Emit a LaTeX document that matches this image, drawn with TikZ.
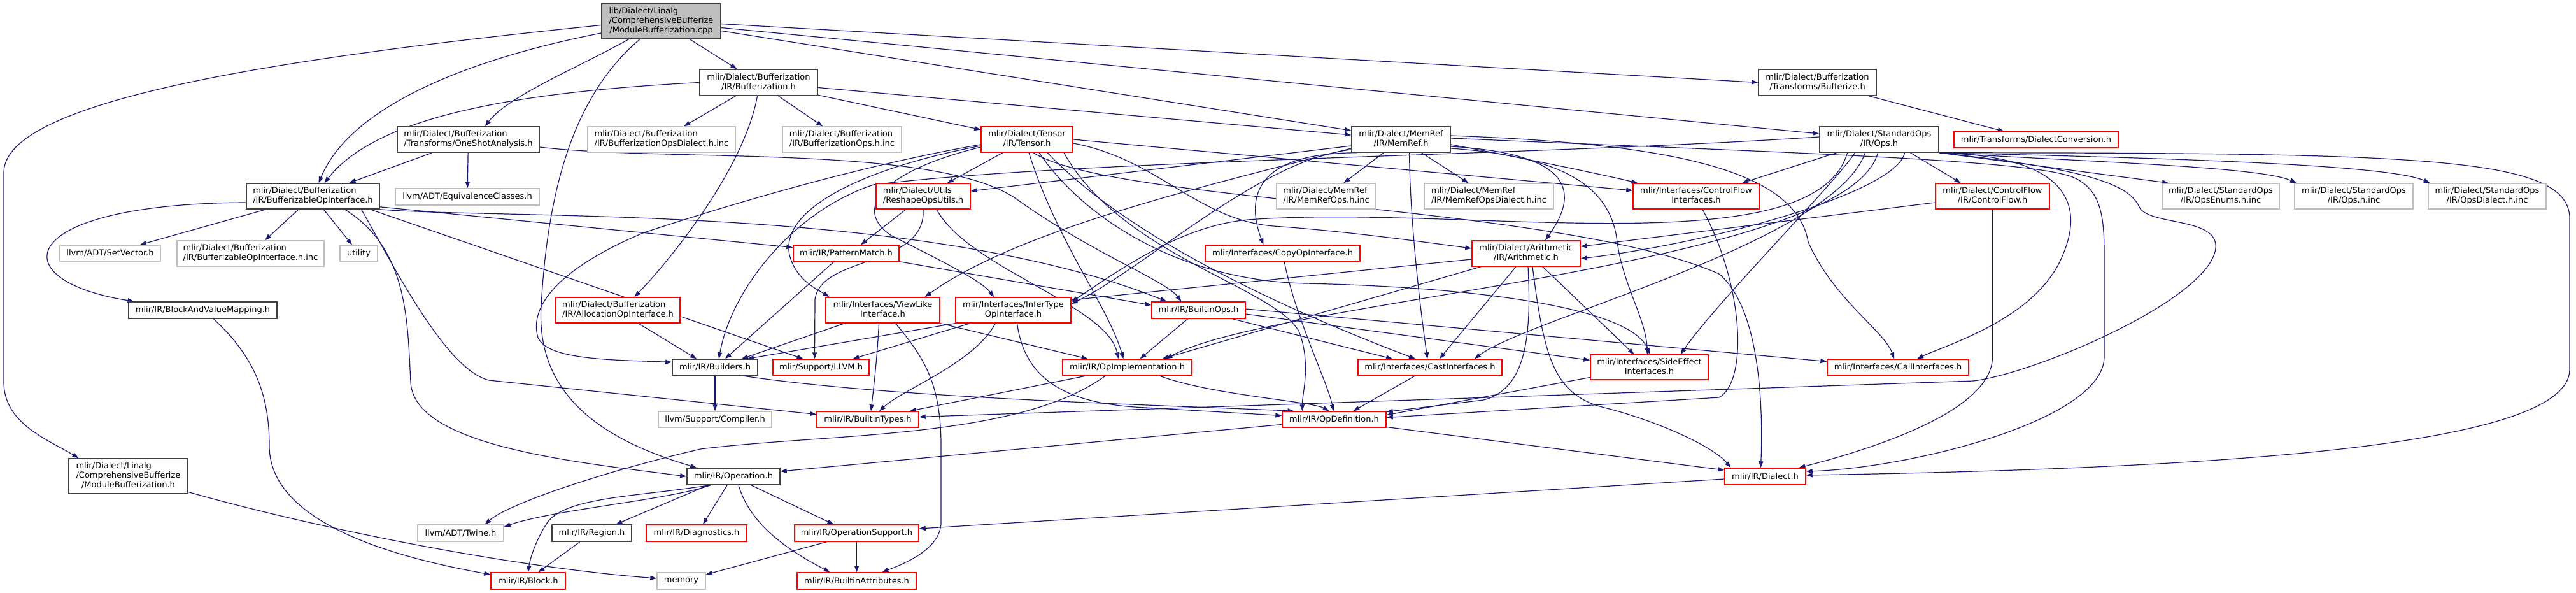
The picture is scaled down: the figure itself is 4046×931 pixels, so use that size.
\documentclass[tikz,border=0pt]{standalone}
\usepackage{fontspec}
\setmainfont{DejaVu Sans}
\usetikzlibrary{arrows.meta}
\definecolor{edgec}{HTML}{191970}
\definecolor{gry}{HTML}{BFBFBF}
\definecolor{dkb}{HTML}{404040}
\pgfdeclarelayer{bg}
\pgfsetlayers{bg,main}
\newcommand{\nlab}[2]{\begin{tabular}{@{}l@{}}#1\\\multicolumn{1}{@{}c@{}}{#2}\end{tabular}}
\begin{document}
\begin{tikzpicture}[x=1pt,y=-1pt,
 nd/.style={inner sep=0pt, fill=white, font=\fontsize{13}{15}\selectfont},
 blk/.style={nd, draw=dkb, line width=1.6pt},
 gy/.style={nd, draw=gry, line width=1.4pt},
 rd/.style={nd, draw=red, line width=1.4pt},
 mn/.style={nd, draw=dkb, fill=gry, line width=1.6pt},
 sz/.style 2 args={minimum width=#1, minimum height=#2},
 e/.style={draw=edgec, line width=1.2pt, -{Triangle[length=10pt,width=7pt]}}
]
\useasboundingbox (0,0) rectangle (4046,931);
% nodes
\node[mn,sz={187}{55}] (main) at (1038.5,33.5) {\nlab{lib/Dialect/Linalg\\/ComprehensiveBufferize}{/ModuleBufferization.cpp}};
\node[blk,sz={185}{41}] (buf) at (1191.5,129.5) {\nlab{mlir/Dialect/Bufferization}{/IR/Bufferization.h}};
\node[blk,sz={185}{41}] (bze) at (2854.5,129.5) {\nlab{mlir/Dialect/Bufferization}{/Transforms/Bufferize.h}};
\node[blk,sz={223}{40}] (osa) at (735.5,219) {\nlab{mlir/Dialect/Bufferization}{/Transforms/OneShotAnalysis.h}};
\node[gy,sz={232}{40}] (bodi) at (1039,219) {\nlab{mlir/Dialect/Bufferization}{/IR/BufferizationOpsDialect.h.inc}};
\node[gy,sz={187}{40}] (boi) at (1322.5,219) {\nlab{mlir/Dialect/Bufferization}{/IR/BufferizationOps.h.inc}};
\node[rd,sz={144}{40}] (tensor) at (1613,219) {\nlab{mlir/Dialect/Tensor}{/IR/Tensor.h}};
\node[blk,sz={155}{40}] (memref) at (2200.5,219) {\nlab{mlir/Dialect/MemRef}{/IR/MemRef.h}};
\node[blk,sz={187}{40}] (stdops) at (2951.5,219) {\nlab{mlir/Dialect/StandardOps}{/IR/Ops.h}};
\node[rd,sz={258}{25}] (dconv) at (3198,219.5) {mlir/Transforms/DialectConversion.h};
\node[blk,sz={209}{40}] (boif) at (491.5,308) {\nlab{mlir/Dialect/Bufferization}{/IR/BufferizableOpInterface.h}};
\node[gy,sz={226}{26}] (eqc) at (734,309) {llvm/ADT/EquivalenceClasses.h};
\node[rd,sz={148}{40}] (reshape) at (1450,308) {\nlab{mlir/Dialect/Utils}{/ReshapeOpsUtils.h}};
\node[gy,sz={156}{40}] (mrops) at (2083,308) {\nlab{mlir/Dialect/MemRef}{/IR/MemRefOps.h.inc}};
\node[gy,sz={203}{40}] (mrdial) at (2338.5,308) {\nlab{mlir/Dialect/MemRef}{/IR/MemRefOpsDialect.h.inc}};
\node[rd,sz={198}{40}] (cfi) at (2664,308) {\nlab{mlir/Interfaces/ControlFlow}{Interfaces.h}};
\node[rd,sz={179}{40}] (cf) at (3129.5,308) {\nlab{mlir/Dialect/ControlFlow}{/IR/ControlFlow.h}};
\node[gy,sz={184}{40}] (openum) at (3488,308) {\nlab{mlir/Dialect/StandardOps}{/IR/OpsEnums.h.inc}};
\node[gy,sz={186}{40}] (opsinc) at (3697,308) {\nlab{mlir/Dialect/StandardOps}{/IR/Ops.h.inc}};
\node[gy,sz={185}{40}] (opsdial) at (3906.5,308) {\nlab{mlir/Dialect/StandardOps}{/IR/OpsDialect.h.inc}};
\node[gy,sz={158}{25}] (setv) at (173,397.5) {llvm/ADT/SetVector.h};
\node[gy,sz={231}{40}] (boifinc) at (393.5,398) {\nlab{mlir/Dialect/Bufferization}{/IR/BufferizableOpInterface.h.inc}};
\node[gy,sz={59}{25}] (util) at (563.5,397.5) {utility};
\node[rd,sz={166}{25}] (pm) at (1329,397.5) {mlir/IR/PatternMatch.h};
\node[rd,sz={243}{25}] (copy) at (2014.5,397.5) {mlir/Interfaces/CopyOpInterface.h};
\node[rd,sz={170}{40}] (arith) at (2397,398) {\nlab{mlir/Dialect/Arithmetic}{/IR/Arithmetic.h}};
\node[blk,sz={233}{26}] (bvm) at (318.5,487) {mlir/IR/BlockAndValueMapping.h};
\node[rd,sz={195}{40}] (alloc) at (970.5,487) {\nlab{mlir/Dialect/Bufferization}{/IR/AllocationOpInterface.h}};
\node[rd,sz={179}{40}] (view) at (1386.5,487) {\nlab{mlir/Interfaces/ViewLike}{Interface.h}};
\node[rd,sz={181}{40}] (infer) at (1591.5,487) {\nlab{mlir/Interfaces/InferType}{OpInterface.h}};
\node[rd,sz={147}{26}] (bops) at (1882.5,487) {mlir/IR/BuiltinOps.h};
\node[blk,sz={134}{25}] (builders) at (1123,576.5) {mlir/IR/Builders.h};
\node[rd,sz={151}{25}] (llvmh) at (1289.5,576.5) {mlir/Support/LLVM.h};
\node[rd,sz={203}{25}] (opimpl) at (1770.5,576.5) {mlir/IR/OpImplementation.h};
\node[rd,sz={226}{25}] (cast) at (2246,576.5) {mlir/Interfaces/CastInterfaces.h};
\node[rd,sz={185}{39}] (side) at (2590.5,576.5) {\nlab{mlir/Interfaces/SideEffect}{Interfaces.h}};
\node[rd,sz={222}{25}] (call) at (2981,576.5) {mlir/Interfaces/CallInterfaces.h};
\node[gy,sz={178}{25}] (comp) at (1123,658.5) {llvm/Support/Compiler.h};
\node[rd,sz={160}{25}] (btypes) at (1363,658.5) {mlir/IR/BuiltinTypes.h};
\node[rd,sz={163}{25}] (opdef) at (2095.5,658.5) {mlir/IR/OpDefinition.h};
\node[blk,sz={187}{55}] (modh) at (201.5,747.5) {\nlab{mlir/Dialect/Linalg\\/ComprehensiveBufferize}{/ModuleBufferization.h}};
\node[blk,sz={146}{26}] (oper) at (1152,748) {mlir/IR/Operation.h};
\node[rd,sz={127}{26}] (dialect) at (2772.5,748) {mlir/IR/Dialect.h};
\node[gy,sz={135}{26}] (twine) at (723.5,837) {llvm/ADT/Twine.h};
\node[blk,sz={125}{26}] (region) at (929.5,837) {mlir/IR/Region.h};
\node[rd,sz={158}{26}] (diag) at (1094,837) {mlir/IR/Diagnostics.h};
\node[rd,sz={195}{26}] (opsup) at (1345.5,837) {mlir/IR/OperationSupport.h};
\node[rd,sz={117}{26}] (block) at (829.5,912) {mlir/IR/Block.h};
\node[gy,sz={76}{26}] (memory) at (1070,912) {memory};
\node[rd,sz={187}{26}] (battr) at (1345.5,912) {mlir/IR/BuiltinAttributes.h};
\begin{pgfonlayer}{bg}
% edges from main
\draw[e] ([yshift=-6]main.west) .. controls (500,85) and (8,150) .. (6,270) -- (6,600) .. controls (6,665) and (75,690) .. ([xshift=-78]modh.north);
\draw[e] (main) .. controls (700,100) and (545,180) .. ([xshift=9]boif.north);
\draw[e] (main) .. controls (900,110) and (800,150) .. ([xshift=26]osa.north);
\draw[e] (main) .. controls (900,150) and (860,300) .. (850,480) .. controls (840,640) and (980,700) .. ([xshift=-58]oper.north);
\draw[e] (main) -- ([xshift=-34]buf.north);
\draw[e] ([yshift=-4]main.east) -- (bze.west);
\draw[e] ([yshift=-10]main.east) -- ([yshift=9]stdops.west);
\draw[e] ([yshift=-15]main.east) -- ([yshift=14]memref.west);
% buf
\draw[e] (buf.west) .. controls (800,145) and (590,185) .. ([xshift=18]boif.north);
\draw[e] (buf) -- (bodi);
\draw[e] (buf) -- (boi);
\draw[e] (buf) -- (tensor);
\draw[e] ([yshift=-8]buf.east) -- ([yshift=7]memref.west);
\draw[e] ([xshift=-2]buf.south) .. controls (1170,260) and (1060,400) .. ([xshift=26]alloc.north);
\draw[e] (bze) -- (dconv);
% osa
\draw[e] (osa) -- (boif);
\draw[e] (osa) -- (eqc);
\draw[e] ([yshift=-12]osa.east) .. controls (1050,255) and (1480,225) .. (1600,315) .. controls (1720,400) and (1830,440) .. ([xshift=-27]bops.north);
% boif
\draw[e] (boif) -- (setv);
\draw[e] (boif) -- (boifinc);
\draw[e] (boif) -- (util);
\draw[e] ([yshift=-10]boif.west) .. controls (20,320) and (0,440) .. ([xshift=-108]bvm.north);
\draw[e] ([xshift=50]boif.south) .. controls (640,390) and (640,500) .. (645,600) .. controls (650,700) and (900,725) .. (oper.west);
\draw[e] ([xshift=76]boif.south) .. controls (620,420) and (700,580) .. (768,597) -- ([yshift=8]btypes.west);
\draw[e] ([xshift=90]boif.south) -- ([xshift=-28]llvmh.north);
\draw[e] (boif.south east) .. controls (800,345) and (1450,320) .. ([xshift=-50]bops.north);
\draw[e] ([yshift=4]boif.south east) -- ([yshift=9]pm.west);
% tensor
\draw[e] (tensor) -- (reshape);
\draw[e] ([yshift=-8]tensor.west) .. controls (1350,260) and (1150,320) .. (1012,365) .. controls (880,420) and (830,480) .. (845,530) .. controls (860,565) and (960,565) .. ([yshift=8]builders.west);
\draw[e] ([yshift=-10]tensor.west) .. controls (1350,265) and (1225,330) .. (1240,400) .. controls (1250,440) and (1285,455) .. ([xshift=-84]view.north);
\draw[e] ([yshift=-12]tensor.west) .. controls (1380,270) and (1340,330) .. (1400,370) .. controls (1480,410) and (1540,440) .. ([xshift=-30]infer.north);
\draw[e] ([xshift=3]tensor.south) .. controls (1660,380) and (1740,480) .. ([xshift=-6]opimpl.north);
\draw[e] ([xshift=10]tensor.south) .. controls (1750,320) and (2450,320) .. (2700,430) .. controls (2760,480) and (2770,620) .. ([xshift=-7]dialect.north);
\draw[e] ([xshift=19]tensor.south) .. controls (1700,340) and (1850,440) .. (2050,445) .. controls (2300,450) and (2560,480) .. ([xshift=1]side.north);
\draw[e] ([xshift=32]tensor.south) .. controls (1750,350) and (1950,460) .. ([xshift=-23]cast.north);
\draw[e] ([xshift=58]tensor.south) .. controls (1760,400) and (2000,450) .. (2040,520) .. controls (2060,570) and (2045,620) .. ([xshift=-50]opdef.north);
\draw[e] (tensor.east) -- ([yshift=9]cfi.west);
\draw[e] ([yshift=-6]tensor.east) .. controls (1820,250) and (1880,345) .. (2000,355) .. controls (2100,362) and (2200,375) .. ([yshift=8]arith.west);
% memref
\draw[e] ([yshift=-10]memref.west) -- ([yshift=8]reshape.east);
\draw[e] ([yshift=-14]memref.west) .. controls (1900,290) and (1600,360) .. ([xshift=66]view.north);
\draw[e] ([yshift=-16]memref.west) .. controls (1980,250) and (1800,420) .. ([yshift=10]infer.east);
\draw[e] ([xshift=-69]memref.south) .. controls (1960,240) and (1960,320) .. ([xshift=-30]copy.north);
\draw[e] (memref) -- (mrops);
\draw[e] ([xshift=13]memref.south) .. controls (2215,350) and (2230,480) .. ([xshift=-4]cast.north);
\draw[e] (memref) -- (mrdial);
\draw[e] ([yshift=-8]memref.east) .. controls (2350,240) and (2500,270) .. ([xshift=-92]cfi.north);
\draw[e] ([yshift=-11]memref.east) .. controls (2450,240) and (2490,290) .. ([xshift=30]arith.north);
\draw[e] ([yshift=-14]memref.east) .. controls (2450,245) and (2530,290) .. (2540,380) .. controls (2550,450) and (2585,500) .. ([xshift=-3]side.north);
\draw[e] ([yshift=6]memref.east) .. controls (2600,225) and (2820,260) .. (2840,380) .. controls (2880,470) and (2960,520) .. ([xshift=-6]call.north);
\draw[e] ([yshift=2]memref.east) .. controls (2800,240) and (3200,250) .. (3260,280) .. controls (3300,300) and (3305,340) .. (3305,400) -- (3305,560) .. controls (3305,660) and (3000,735) .. ([yshift=8]dialect.east);
% stdops
\draw[e] (stdops.south east) -- ([xshift=-82]openum.north);
\draw[e] (stdops.south east) .. controls (3300,255) and (3550,262) .. ([xshift=-90]opsinc.north);
\draw[e] (stdops.south east) .. controls (3400,248) and (3750,258) .. ([xshift=-90]opsdial.north);
\draw[e] ([xshift=49]stdops.south) -- ([xshift=-50]cf.north);
\draw[e] (stdops.south east) .. controls (3800,240) and (4030,245) .. (4036,340) -- (4036,580) .. controls (4036,700) and (3500,735) .. ([yshift=2]dialect.east);
\draw[e] (stdops.south east) .. controls (3260,245) and (3270,330) .. (3240,400) .. controls (3200,500) and (3060,540) .. ([xshift=30]call.north);
\draw[e] (stdops.south east) .. controls (3280,265) and (3345,290) .. (3360,325) .. controls (3375,355) and (3485,340) .. (3480,390) .. controls (3470,470) and (3200,585) .. (3100,598) -- ([yshift=4]btypes.east);
\draw[e] ([xshift=-67]stdops.south) -- ([xshift=72]cfi.north);
\draw[e] ([xshift=-38]stdops.south) .. controls (2880,290) and (2700,470) .. ([xshift=49]side.north);
\draw[e] ([xshift=-22]stdops.south) .. controls (2880,380) and (2400,500) .. ([xshift=70]cast.north);
\draw[e] ([xshift=-2]stdops.south) .. controls (2900,420) and (2000,470) .. ([xshift=61]opimpl.north);
\draw[e] ([xshift=40]stdops.south) .. controls (2980,300) and (2700,380) .. ([yshift=-8]arith.east);
\draw[e] ([xshift=-50]stdops.south) .. controls (2850,420) and (2300,320) .. (1960,345) .. controls (1850,355) and (1750,430) .. ([yshift=13]infer.east);
\draw[e] ([yshift=4]stdops.west) .. controls (2400,245) and (1700,250) .. (1372,290) .. controls (1250,330) and (1150,450) .. ([xshift=6]builders.north);
% cf
\draw[e] ([yshift=-10]cf.west) -- ([yshift=11]arith.east);
\draw[e] (cf.south) -- (3129.5,560) .. controls (3129.5,650) and (2920,710) .. ([xshift=53]dialect.north);
% arith
\draw[e] ([yshift=-9]arith.west) -- ([yshift=16]infer.east);
\draw[e] ([xshift=-71]arith.south) -- ([xshift=55]opimpl.north);
\draw[e] ([xshift=-16]arith.south) -- ([xshift=15]cast.north);
\draw[e] ([xshift=3]arith.south) .. controls (2405,520) and (2400,610) .. (2330,628) -- ([yshift=12]opdef.east);
\draw[e] ([xshift=10]arith.south) .. controls (2425,560) and (2440,620) .. (2520,640) .. controls (2600,660) and (2690,700) .. ([xshift=-54]dialect.north);
\draw[e] ([xshift=26]arith.south) -- ([xshift=-24]side.north);
% interfaces
\draw[e] ([xshift=10]cfi.south) .. controls (2740,450) and (2745,600) .. (2700,624) -- ([yshift=3]opdef.east);
\draw[e] (copy) .. controls (2035,500) and (2085,600) .. ([xshift=-1]opdef.north);
\draw[e] (cast) -- ([xshift=30]opdef.north);
\draw[e] ([yshift=-16]side.west) -- ([yshift=7]opdef.east);
% view
\draw[e] ([xshift=-60]view.south) -- ([xshift=42]builders.north);
\draw[e] ([xshift=-6]view.south) .. controls (1378,560) and (1372,610) .. ([xshift=5]btypes.north);
\draw[e] ([xshift=20]view.south) .. controls (1450,560) and (1478,600) .. (1478,700) -- (1478,820) .. controls (1478,862) and (1420,885) .. ([xshift=40]battr.north);
\draw[e] (view.south east) -- ([xshift=-62]opimpl.north);
% infer
\draw[e] (infer.south west) -- ([xshift=51]builders.north);
\draw[e] ([xshift=-68]infer.south) -- ([xshift=50]llvmh.north);
\draw[e] ([xshift=-28]infer.south) .. controls (1530,570) and (1420,610) .. ([xshift=18]btypes.north);
\draw[e] ([xshift=6]infer.south) .. controls (1610,600) and (1680,635) .. (1800,640) -- ([yshift=6]opdef.west);
% reshape
\draw[e] ([xshift=-27]reshape.south) -- ([xshift=23]pm.north);
\draw[e] (reshape.south) .. controls (1455,420) and (1290,400) .. (1280,470) -- ([xshift=-10]llvmh.north);
\draw[e] ([xshift=21]reshape.south) .. controls (1520,420) and (1740,480) .. ([xshift=-14]opimpl.north);
% pm, alloc, bops
\draw[e] ([xshift=-19]pm.south) -- ([xshift=16]builders.north);
\draw[e] (pm.south east) -- ([yshift=8]bops.west);
\draw[e] ([xshift=32]alloc.south) -- ([xshift=-29]builders.north);
\draw[e] ([xshift=-17]bops.south) -- ([xshift=20]opimpl.north);
\draw[e] ([yshift=2]bops.east) -- ([yshift=9]call.west);
\draw[e] ([yshift=-6]bops.east) -- ([yshift=11]side.west);
\draw[e] ([xshift=53]bops.south) -- ([xshift=-59]cast.north);
% opimpl
\draw[e] ([xshift=-63]opimpl.south) -- ([xshift=66]btypes.north);
\draw[e] ([xshift=-34]opimpl.south) .. controls (1600,690) and (1300,680) .. (1100,705) .. controls (950,740) and (800,790) .. ([xshift=38]twine.north);
\draw[e] ([xshift=50]opimpl.south) .. controls (1900,620) and (2060,630) .. ([xshift=-8]opdef.north);
% builders
\draw[e] (builders) -- (comp);
\draw[e] ([xshift=42]builders.south) .. controls (1400,625) and (1800,635) .. ([xshift=-63]opdef.north);
% opdef, dialect
\draw[e] ([yshift=-8]opdef.west) -- ([yshift=8]oper.east);
\draw[e] ([yshift=-12]opdef.east) -- ([yshift=10]dialect.west);
\draw[e] ([yshift=-4]dialect.west) -- ([yshift=7]opsup.east);
% oper
\draw[e] ([xshift=-36]oper.south) .. controls (1050,785) and (870,800) .. ([yshift=10]twine.east);
\draw[e] ([xshift=-40]oper.south) -- ([xshift=38]region.north);
\draw[e] ([xshift=-38]oper.south) .. controls (1000,780) and (890,780) .. (860,820) .. controls (840,850) and (832,880) .. (block.north);
\draw[e] ([xshift=-10]oper.south) -- ([xshift=10]diag.north);
\draw[e] ([xshift=8]oper.south) .. controls (1180,830) and (1250,870) .. ([xshift=-42]battr.north);
\draw[e] ([xshift=28]oper.south) -- ([xshift=-36]opsup.north);
% misc
\draw[e] (region) -- ([xshift=16]block.north);
\draw[e] ([xshift=17]bvm.south) .. controls (400,560) and (423,620) .. (423,700) .. controls (423,830) and (650,880) .. ([yshift=10]block.west);
\draw[e] ([xshift=-47]opsup.south) -- ([yshift=10]memory.east);
\draw[e] (opsup) -- (battr);
\draw[e] ([yshift=-25]modh.east) .. controls (500,830) and (800,890) .. ([yshift=4]memory.west);
\end{pgfonlayer}
\end{tikzpicture}
\end{document}
